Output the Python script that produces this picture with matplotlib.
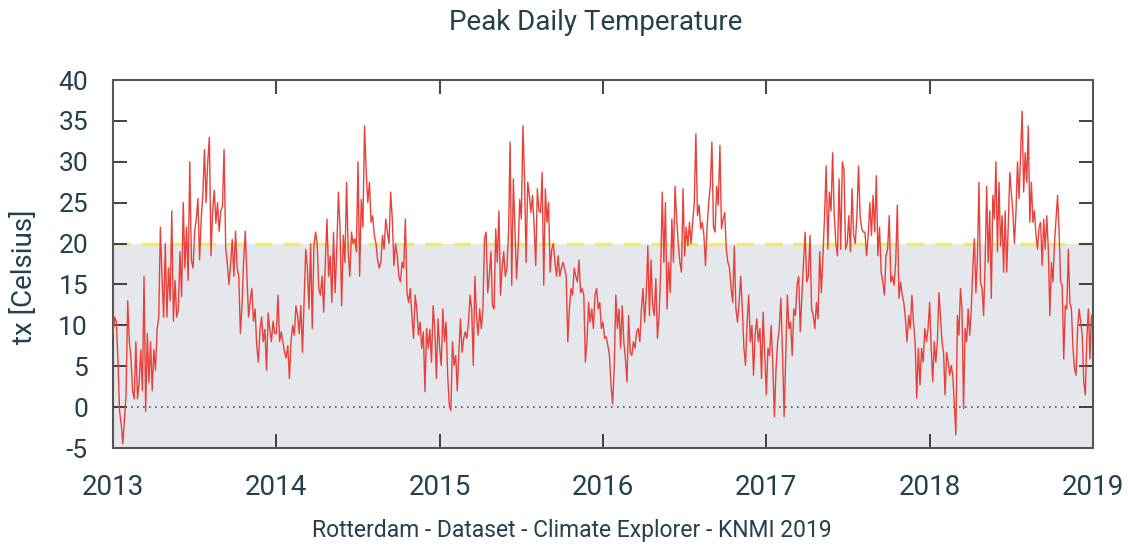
import numpy as np
import matplotlib
matplotlib.use("Agg")
import matplotlib.pyplot as plt

# Daily maximum temperature (tx, Celsius), Rotterdam, sampled every few days
years = [2013, 2014, 2015, 2016, 2017, 2018]

tx_2013 = [9, 11, 10.5, 6, -0.5, -2, -4.5, -1.5, 1.5, 13, 8, 6, 2, 1, 8, 1, 3, 7, 2,
           16, -0.5, 9, 3, 8, 2, 7, 4.5, 9.5, 11, 22, 16, 11, 20, 11, 17, 13, 24, 10.5,
           15.5, 11, 12, 19, 13.5, 25, 17, 22, 15.5, 30, 18, 17, 21.5, 23, 25.5, 18, 23,
           26, 31.5, 25, 30, 33, 18.5, 24, 26.5, 22.5, 25, 21.5, 24, 24.5, 31.5, 19.5,
           17.5, 15, 17.5, 20.5, 16, 21.5, 17, 16, 9, 12.5, 18, 21.5, 16, 11, 13, 14.5,
           10.5, 12, 7.5, 5.5, 9.5, 11, 8, 9.5, 4.5, 11.5, 9.5, 8, 10.5, 9]

tx_2014 = [9, 13.7, 8, 9.2, 8, 6.7, 6, 7.5, 3.5, 8, 10, 8.8, 12.4, 11.2, 9, 12.4, 6.7,
           12.8, 19.3, 17, 12, 20, 9.6, 19.7, 21.4, 20, 14.5, 13.7, 16, 11.6, 17.7, 23,
           16, 18.5, 12.8, 21.4, 14, 19.3, 26.3, 21.8, 12.4, 21, 17.7, 27.5, 19, 16, 21.4,
           20, 20.6, 19, 30, 16, 25.4, 22, 34.4, 29, 25, 27.5, 22.6, 23.4, 21, 20, 18, 17,
           17.7, 21, 19.3, 23, 21.4, 20, 26.3, 23, 17.3, 20, 18.5, 16, 15.3, 17.7, 17, 23,
           14, 12.8, 14.5, 11.2, 8.4, 13.7, 12, 8.8, 10.4, 7.2, 9.2, 1.9, 9.6, 7.2, 9.5,
           5.5, 12.4, 9.6, 3.5, 10.8]

tx_2015 = [7.2, 5.1, 12, 8, 10.4, 3.9, 0.2, -0.4, 8, 5.1, 6.3, 2, 6.7, 10.8, 6.7, 8.4,
           9.2, 8.4, 10.4, 13.7, 12, 5.1, 16, 11.2, 8.8, 12, 9.6, 12, 20.6, 21.4, 14, 16,
           19, 12.4, 12, 21.8, 17.7, 24, 13.7, 17, 19, 16, 17, 21.4, 32.4, 14.9, 27.9, 22,
           15.7, 19.3, 25.4, 23, 34.4, 27.9, 17.7, 27.5, 25.9, 23.8, 25.9, 22, 17.3, 26.7,
           24, 23.8, 28.7, 14.9, 26.7, 22.6, 25, 16.5, 19.3, 20, 17.7, 16, 18.5, 16, 17,
           17.7, 17, 16, 8, 12, 14.5, 13.7, 17, 16, 15.3, 18, 14, 14.5, 13.7, 5.5, 8, 12.8,
           10.4, 12, 9.6, 13.7, 14.5, 12, 12.8, 9.6]

tx_2016 = [10.4, 8.4, 8.6, 7.6, 6.3, 2.7, 0.4, 4.7, 13.7, 9.6, 12, 7.2, 12.4, 8, 5.9,
           3.1, 11.2, 6.7, 6.3, 8, 7.2, 9.2, 9.6, 8, 12, 14.5, 10.4, 13.7, 19.7, 11.2, 18,
           12.4, 11.2, 15.7, 8.4, 11.2, 16.5, 26.3, 17.7, 25, 12, 17.7, 14, 23, 17.7, 27,
           23, 20, 17.7, 16.5, 26.7, 18.5, 22, 19.7, 22.6, 20, 22.6, 25, 33.4, 23.4, 24.7,
           21.8, 22.6, 21, 17.3, 22, 25, 27, 32.4, 22, 21.4, 27, 24.7, 32, 21.8, 23, 23.8,
           19.3, 17.7, 17, 14.5, 12.8, 19.7, 12, 10.4, 12.8, 16, 12, 7.2, 5.1, 10.4, 13.7,
           8, 10, 3.9, 8.8, 10.8, 8, 9.6, 3.5, 11.6, 6.7]

tx_2017 = [1.5, 7.2, 6.3, 10, 5.1, -1.2, 4.7, 8, 9.6, 13.3, 6.7, -1.2, 6.3, 13.7, 9.6,
           10.4, 6.3, 12, 11.2, 14.9, 16, 9.2, 13.7, 17.7, 21.4, 15.3, 16, 21, 12, 11.2,
           9.6, 12.8, 10.8, 19, 14, 18.5, 23.4, 29.5, 19.3, 26.3, 24, 31.1, 23.4, 20, 18.5,
           27.9, 19.3, 30, 29.1, 19.3, 20, 23.4, 19, 26.7, 21, 20, 23.4, 29.5, 23.4, 21.8,
           21.4, 21.4, 18.5, 21, 25, 21, 25.9, 21.4, 28.3, 18.5, 22, 16.5, 15.3, 13.7,
           18.5, 19.3, 23.4, 15.3, 16, 14.9, 17.7, 24.7, 13.3, 15.3, 13.7, 12.8, 10.8, 8,
           11.2, 9.6, 13.7, 10.4, 8, 1.1, 7.2, 2.7, 7.2, 5.5, 9.6, 8, 9.6]

tx_2018 = [12.8, 7.2, 3.1, 8, 5.5, 8, 14, 11.2, 8, 6.7, 1.5, 6.7, 5.5, 3.9, 5.1, 3.9,
           0.2, -3.4, 11.2, 8.8, 14.5, 12, -0.2, 9.6, 8, 12, 8.8, 12, 17, 20.6, 14, 18.4,
           27.5, 15.3, 14.5, 11.2, 17.7, 27, 17.7, 24, 13.3, 25.9, 23, 30, 19, 27.5, 19.7,
           23.4, 16.5, 24, 16.5, 22.2, 28.7, 26.3, 23.8, 20, 23.8, 30, 25.5, 30.7, 36.2,
           26.3, 31.1, 27.5, 34.4, 22.6, 27.5, 22.6, 24, 21, 19.3, 22, 22.6, 17.3, 23, 19.3,
           23.4, 19.3, 11.2, 17.7, 15.3, 20, 23, 25.9, 21.4, 15.3, 14.9, 5.9, 12.4, 12,
           19.3, 12.8, 12, 7.2, 4.7, 3.9, 9.6, 12, 10.4, 8.8, 3.1, 1.5, 8.4, 12, 5.9, 11.2]

series = [tx_2013, tx_2014, tx_2015, tx_2016, tx_2017, tx_2018]

threshold = 20
title = "Peak Daily Temperature"
ylabel = "tx [Celsius]"
caption = "Rotterdam - Dataset - Climate Explorer - KNMI 2019"

# spread each year's samples evenly across that year
x = np.concatenate([yr + np.linspace(0, 1, len(v), endpoint=False) for yr, v in zip(years, series)])
y = np.concatenate([np.asarray(v, dtype=float) for v in series])

text_color = "#23404f"
plt.rcParams["font.family"] = ["Roboto", "DejaVu Sans"]
plt.rcParams["axes.unicode_minus"] = False

fig = plt.figure(figsize=(11.28, 5.49), dpi=100)
ax = fig.add_axes([113 / 1128, 101 / 549, 980 / 1128, 368 / 549])

# shaded band below the threshold, dashed threshold line and zero line
ax.axhspan(-5, threshold, color="#e4e8ec", lw=0, zorder=0)
ax.axhline(threshold, color="#f3ea5f", lw=2.4, dashes=(5.2, 3.3), zorder=1)
ax.axhline(0, color="#555555", lw=1.2, linestyle=(0, (1, 2.6)), zorder=1)

ax.plot(x, y, color="#e8403a", lw=1.0, zorder=3)

ax.set_xlim(2013, 2019)
ax.set_ylim(-5, 40)
ax.set_xticks(range(2013, 2020))
ax.set_yticks(range(-5, 41, 5))

for side in ax.spines.values():
    side.set_color("#555555")
    side.set_linewidth(1.5)

ax.tick_params(direction="in", length=10, width=1.3, color="#333333",
               top=True, right=True, labelcolor=text_color)
ax.tick_params(axis="x", pad=19, labelsize=20)
ax.tick_params(axis="y", pad=18, labelsize=19)

fig.text(25 / 1128, 1 - 277 / 549, ylabel, rotation=90, ha="center", va="center",
         fontsize=20, color=text_color)
fig.text(596 / 1128, 1 - 22 / 549, title, ha="center", va="center",
         fontsize=20, color=text_color)
fig.text(572 / 1128, 1 - 531 / 549, caption, ha="center", va="center",
         fontsize=16.5, color=text_color)

fig.savefig("out.png", dpi=100)
